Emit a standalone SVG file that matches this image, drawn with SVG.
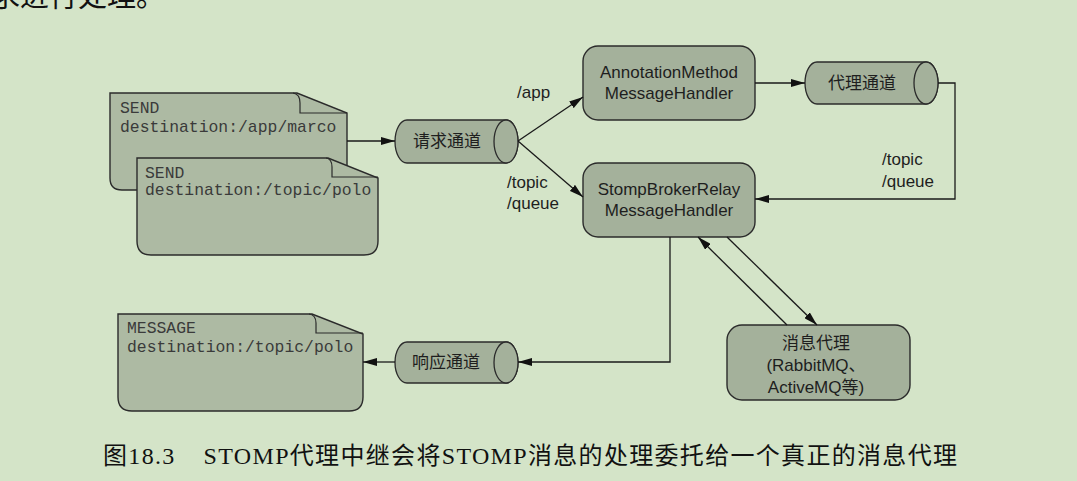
<svg xmlns="http://www.w3.org/2000/svg" width="1077" height="481" viewBox="0 0 1077 481">
<style>
.doc{fill:#adbaa3;stroke:#2b2b2b;stroke-width:1.4}
.fold{fill:none;stroke:#2b2b2b;stroke-width:1.2}
.box{fill:#a4b19b;stroke:#2b2b2b;stroke-width:1.4}
.cyl{fill:#a4b19b;stroke:#2b2b2b;stroke-width:1.3}
.mono{font-family:"Liberation Mono","DejaVu Sans Mono",monospace;font-size:16.4px;fill:#3a3a3a}
.sans{font-family:"Liberation Sans",Arial,"Noto Sans CJK SC",sans-serif;font-size:17px;fill:#1e1e1e}
.cjk{font-family:"Noto Sans CJK SC",sans-serif;font-size:17px;fill:#1e1e1e}
.mid{text-anchor:middle}
.conn{fill:none;stroke:#1a1a1a;stroke-width:1.3}
.cap{font-family:"Liberation Serif","Noto Sans CJK SC",serif;fill:#111}
</style>
<defs>
<marker id="ah" viewBox="0 0 14 8" refX="14" refY="4" markerWidth="14" markerHeight="8" markerUnits="userSpaceOnUse" orient="auto">
<path d="M0,0 L14,4 L0,8 Z" fill="#111"/>
</marker>
</defs>
<rect width="1077" height="481" fill="#d4e4c8"/>
<text class="cap" x="-9" y="7" font-size="29">求进行处理。</text>

<g id="doc-send-app">
<path class="doc" d="M110,93 H297 L347,113 V178 Q347,190 335,190 H122 Q110,190 110,178 Z"/>
<path class="fold" d="M293,93 Q300,94 300,103 V113 H347"/>
<text class="mono" x="120" y="113">SEND</text>
<text class="mono" x="120" y="132">destination:/app/marco</text>
</g>

<g id="doc-send-topic">
<path class="doc" d="M137,158 H328 L378,178 V241 Q378,255 364,255 H151 Q137,255 137,241 Z"/>
<path class="fold" d="M326,158 Q332,159 332,167 V177 H378"/>
<text class="mono" x="145" y="178">SEND</text>
<text class="mono" x="145" y="195">destination:/topic/polo</text>
</g>

<g id="doc-message">
<path class="doc" d="M118,314 H312 L363,334 V397 Q363,411 349,411 H132 Q118,411 118,397 Z"/>
<path class="fold" d="M309,314 Q316,315 316,323 V333 H363"/>
<text class="mono" x="127" y="333">MESSAGE</text>
<text class="mono" x="127" y="352">destination:/topic/polo</text>
</g>

<g id="request-channel">
<path class="cyl" d="M407,120 H506 A12,21.5 0 0 1 506,163 H407 A12,21.5 0 0 1 407,120 Z"/>
<ellipse class="cyl" cx="506" cy="141.5" rx="12" ry="21.5"/>
<text class="cjk mid" x="447" y="147">请求通道</text>
</g>

<g id="broker-channel">
<path class="cyl" d="M817,62 H926 A12,21 0 0 1 926,104 H817 A12,21 0 0 1 817,62 Z"/>
<ellipse class="cyl" cx="926" cy="83" rx="12" ry="21"/>
<text class="cjk mid" x="862" y="89">代理通道</text>
</g>

<g id="response-channel">
<path class="cyl" d="M407,342 H506 A12,20.5 0 0 1 506,383 H407 A12,20.5 0 0 1 407,342 Z"/>
<ellipse class="cyl" cx="506" cy="362.5" rx="12" ry="20.5"/>
<text class="cjk mid" x="446" y="368">响应通道</text>
</g>

<g id="annotation-handler">
<rect class="box" x="583" y="46" width="172" height="74" rx="15"/>
<text class="sans mid" x="669" y="78">AnnotationMethod</text>
<text class="sans mid" x="669" y="99">MessageHandler</text>
</g>

<g id="stomp-relay-handler">
<rect class="box" x="583" y="163" width="172" height="74" rx="15"/>
<text class="sans mid" x="669" y="195">StompBrokerRelay</text>
<text class="sans mid" x="669" y="216">MessageHandler</text>
</g>

<g id="message-broker">
<rect class="box" x="727" y="325" width="183" height="75" rx="15"/>
<text class="cjk mid" x="816" y="349">消息代理</text>
<text class="sans mid" x="816" y="371">(RabbitMQ、</text>
<text class="sans mid" x="816" y="393">ActiveMQ等)</text>
</g>

<g id="connectors">
<path class="conn" d="M347,141 H395" marker-end="url(#ah)"/>
<path class="conn" d="M518,141 L583,97" marker-end="url(#ah)"/>
<path class="conn" d="M518,141 L583,197" marker-end="url(#ah)"/>
<path class="conn" d="M755,83 H805" marker-end="url(#ah)"/>
<path class="conn" d="M938,83 H955 V199 H755" marker-end="url(#ah)"/>
<path class="conn" d="M727,237 L817,325" marker-end="url(#ah)"/>
<path class="conn" d="M787,325 L698,237" marker-end="url(#ah)"/>
<path class="conn" d="M670,237 V362 H518" marker-end="url(#ah)"/>
<path class="conn" d="M395,362 H363" marker-end="url(#ah)"/>
<text class="sans" x="517" y="98">/app</text>
<text class="sans" x="507" y="188">/topic</text>
<text class="sans" x="507" y="209">/queue</text>
<text class="sans" x="882" y="165">/topic</text>
<text class="sans" x="882" y="187">/queue</text>
</g>

<text class="cap" x="103" y="464" font-size="24" textLength="854" lengthAdjust="spacing">图18.3<tspan dx="28">STOMP代理中继会将STOMP消息的处理委托给一个真正的消息代理</tspan></text>
</svg>
